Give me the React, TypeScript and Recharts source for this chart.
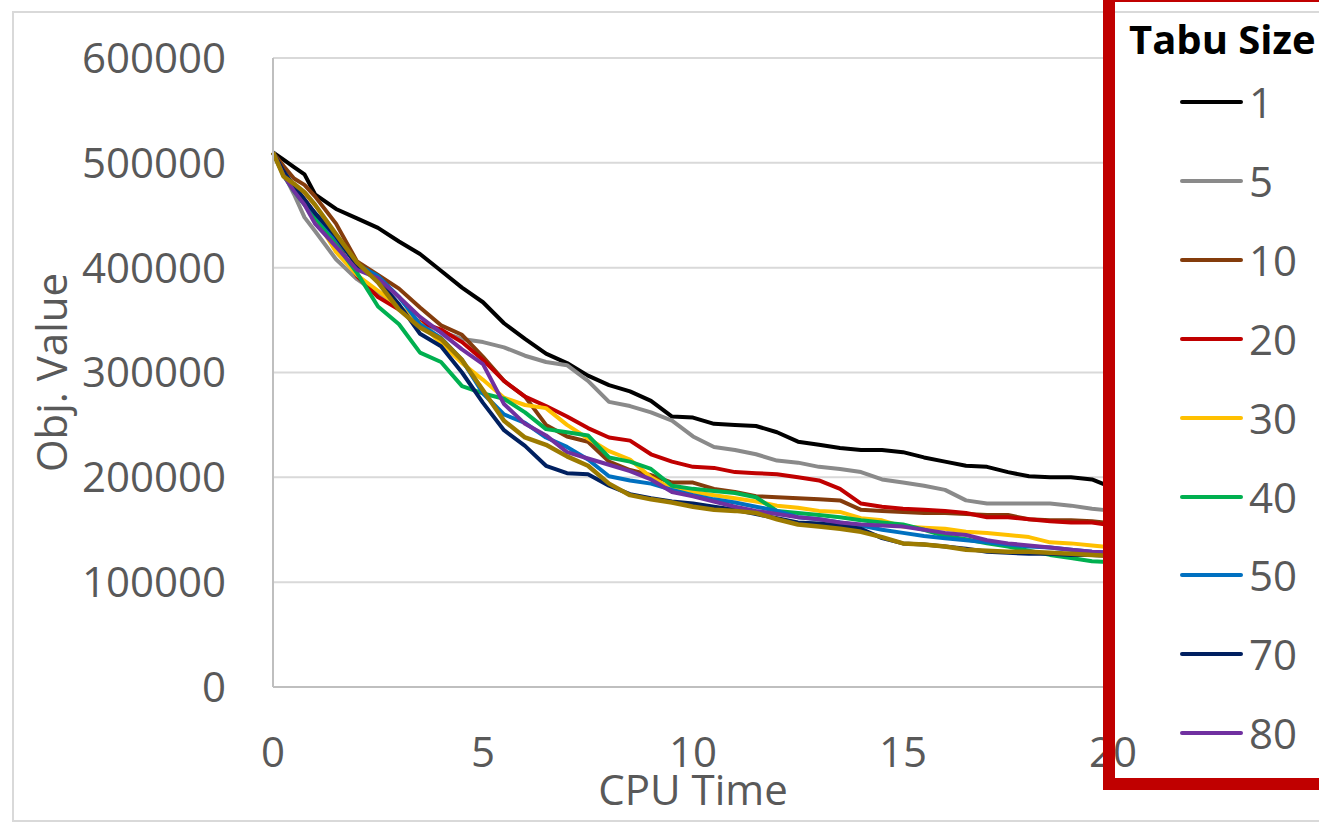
import { LineChart, Line, XAxis, YAxis, CartesianGrid } from 'recharts';

// CPU time samples shared by every run
const cpuTime = [0, 0.25, 0.5, 0.75, 1, 1.5, 2, 2.5, 3, 3.5, 4, 4.5, 5, 5.5, 6, 6.5, 7, 7.5, 8, 8.5, 9, 9.5, 10, 10.5, 11, 11.5, 12, 12.5, 13, 13.5, 14, 14.5, 15, 15.5, 16, 16.5, 17, 17.5, 18, 18.5, 19, 19.5, 20];

// objective values per tabu size, in thousands
const tabu1 = [510, 503, 496, 489, 470, 456, 447, 438, 425, 413, 397, 381, 367, 347, 332, 318, 309, 297, 288, 282, 273, 258, 257, 251, 250, 249, 243, 234, 231, 228, 226, 226, 224, 219, 215, 211, 210, 205, 201, 200, 200, 198, 190];
const tabu5 = [510, 490, 470, 448, 435, 408, 389, 375, 362, 348, 339, 332, 329, 324, 316, 310, 307, 292, 272, 268, 262, 254, 239, 229, 226, 222, 216, 214, 210, 208, 205, 198, 195, 192, 188, 178, 175, 175, 175, 175, 173, 170, 168];
const tabu10 = [510, 497, 485, 479, 468, 442, 406, 393, 380, 362, 345, 336, 315, 292, 277, 250, 239, 234, 215, 207, 202, 195, 195, 189, 186, 182, 181, 180, 179, 178, 169, 168, 167, 166, 166, 165, 164, 164, 160, 159, 159, 158, 156];
const tabu20 = [510, 490, 478, 465, 452, 425, 392, 372, 360, 348, 341, 329, 312, 292, 277, 268, 258, 247, 238, 235, 222, 215, 210, 209, 205, 204, 203, 200, 197, 189, 175, 172, 170, 169, 168, 166, 162, 162, 160, 158, 157, 157, 154];
const tabu30 = [510, 490, 475, 462, 448, 415, 393, 378, 363, 347, 328, 309, 293, 276, 269, 266, 250, 237, 225, 217, 200, 189, 186, 183, 180, 177, 173, 171, 168, 167, 161, 159, 153, 152, 151, 148, 147, 145, 143, 138, 137, 135, 133];
const tabu40 = [510, 488, 473, 460, 448, 422, 395, 363, 346, 319, 310, 287, 280, 275, 262, 246, 243, 240, 219, 215, 208, 192, 189, 187, 185, 181, 168, 166, 164, 162, 159, 157, 155, 150, 144, 141, 137, 134, 130, 126, 123, 120, 119];
const tabu50 = [510, 490, 475, 463, 452, 428, 403, 392, 372, 346, 333, 312, 280, 260, 252, 238, 229, 217, 201, 197, 194, 188, 183, 179, 176, 172, 168, 162, 160, 157, 154, 150, 147, 144, 142, 140, 138, 136, 134, 133, 131, 129, 128];
const tabu70 = [510, 492, 478, 465, 452, 430, 402, 388, 365, 337, 325, 300, 271, 245, 230, 211, 204, 203, 192, 184, 180, 177, 175, 172, 169, 165, 161, 157, 156, 154, 151, 142, 137, 136, 134, 132, 129, 128, 127, 127, 126, 126, 125];
const tabu80 = [510, 488, 473, 460, 442, 420, 398, 390, 372, 353, 338, 322, 308, 270, 251, 240, 224, 218, 212, 206, 198, 186, 182, 177, 172, 168, 165, 162, 160, 157, 155, 154, 153, 150, 147, 145, 140, 137, 135, 133, 131, 129, 128];
const tabuOther = [510, 487, 480, 472, 460, 432, 405, 386, 360, 343, 332, 312, 283, 254, 238, 231, 220, 211, 194, 183, 179, 176, 172, 169, 168, 166, 160, 155, 153, 151, 148, 143, 137, 136, 134, 131, 130, 129, 129, 128, 127, 126, 125];

const xTicks = [0, 5, 10, 15, 20];
const yTicks = [0, 100000, 200000, 300000, 400000, 500000, 600000];

const series = [
  { key: 's1', label: '1', values: tabu1, color: '#000000', legend: true },
  { key: 's5', label: '5', values: tabu5, color: '#8a8a8a', legend: true },
  { key: 's10', label: '10', values: tabu10, color: '#843c0c', legend: true },
  { key: 's20', label: '20', values: tabu20, color: '#c00000', legend: true },
  { key: 's30', label: '30', values: tabu30, color: '#ffc000', legend: true },
  { key: 's40', label: '40', values: tabu40, color: '#00b050', legend: true },
  { key: 's50', label: '50', values: tabu50, color: '#0070c0', legend: true },
  { key: 's70', label: '70', values: tabu70, color: '#002060', legend: true },
  { key: 's80', label: '80', values: tabu80, color: '#7030a0', legend: true },
  { key: 'sOther', label: '', values: tabuOther, color: '#9c7a00', legend: false },
];

const rows = cpuTime.map((t, i) => {
  const row: Record<string, number> = { t };
  series.forEach(s => { row[s.key] = s.values[i] * 1000; });
  return row;
});

const font = '"Open Sans", sans-serif';
const tickStyle = { fill: '#595959', fontSize: 42, fontFamily: font };

export default function App() {
  const legendItems = series.filter(s => s.legend);
  return (
    <div style={{ position: 'absolute', left: 0, top: 0, width: 1319, height: 822, background: '#fff', overflow: 'hidden', fontFamily: font }}>
      {/* outer chart frame */}
      <div style={{ position: 'absolute', left: 12, top: 11, width: 1340, height: 807, border: '2px solid #d9d9d9' }} />

      <LineChart width={1319} height={822} data={rows} margin={{ top: 58, right: 206, bottom: 15, left: 0 }} style={{ position: 'absolute', left: 0, top: 0 }}>
        <CartesianGrid vertical={false} stroke="#d9d9d9" strokeWidth={2} />
        <XAxis
          type="number"
          dataKey="t"
          domain={[0, 20]}
          ticks={xTicks}
          height={120}
          tickLine={false}
          tickSize={0}
          tickMargin={50}
          axisLine={{ stroke: '#bfbfbf', strokeWidth: 2 }}
          tick={tickStyle}
          label={{ value: 'CPU Time', position: 'insideBottom', offset: 2, fill: '#595959', fontSize: 42, fontFamily: font }}
        />
        <YAxis
          type="number"
          domain={[0, 600000]}
          ticks={yTicks}
          width={273}
          tickLine={false}
          tickSize={0}
          tickMargin={47}
          axisLine={{ stroke: '#bfbfbf', strokeWidth: 2 }}
          tick={tickStyle}
          tickFormatter={(v) => String(v)}
          label={{ value: 'Obj. Value', angle: -90, position: 'insideLeft', offset: 52, fill: '#595959', fontSize: 42, fontFamily: font, style: { textAnchor: 'middle' } }}
        />
        {series.map(s => (
          <Line
            key={s.key}
            type="linear"
            dataKey={s.key}
            stroke={s.color}
            strokeWidth={s.legend ? 4 : 4.5}
            strokeLinejoin="round"
            dot={false}
            isAnimationActive={false}
          />
        ))}
      </LineChart>

      {/* legend box */}
      <div style={{ position: 'absolute', left: 1103, top: -10, width: 260, height: 776, border: '12px solid #c00000' }} />
      <div style={{ position: 'absolute', left: 1129, top: 19, fontSize: 40, lineHeight: '40px', fontWeight: 700, color: '#000' }}>Tabu Size</div>
      {legendItems.map((s, i) => (
        <div key={s.key} style={{ position: 'absolute', left: 1180, top: 102 + i * 78.9 - 21, height: 42, display: 'flex', alignItems: 'center' }}>
          <div style={{ width: 63, height: 4, borderRadius: 2, background: s.color }} />
          <span style={{ marginLeft: 6, fontSize: 42, lineHeight: '42px', color: '#595959' }}>{s.label}</span>
        </div>
      ))}
    </div>
  );
}
